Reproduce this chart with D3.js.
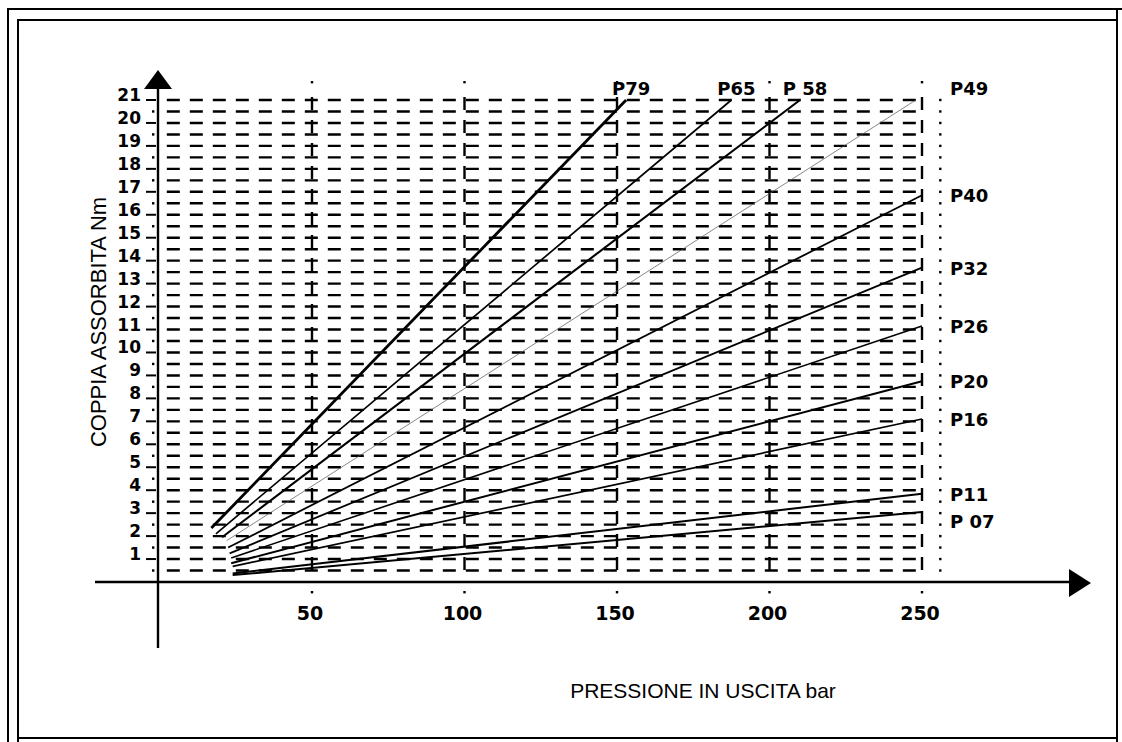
<!DOCTYPE html>
<html lang="it">

<head>
    <meta charset="UTF-8">
    <title>Coppia assorbita</title>
    <style>
        body {
            margin: 0;
            background: white;
        }

        #SVG {
            display: block;
            background-color: white;
        }

        .tick-label {
            font-family: "DejaVu Sans", sans-serif;
            font-weight: bold;
            fill: black;
        }

        .axis-title {
            font-family: "Liberation Sans", Arial, sans-serif;
            fill: black;
        }
    </style>
</head>

<body>
    <svg id="SVG"></svg>

    <script src="https://d3js.org/d3.v7.min.js"></script>

    <script>
        // dati: pressione (bar) e coppia (Nm) agli estremi di ogni retta
        var pumps = ["P79", "P65", "P 58", "P49", "P40", "P32", "P26", "P20", "P16", "P11", "P 07"];
        var startPressure = [17, 18.5, 20.5, 22, 22.5, 23, 23.5, 23.5, 24, 24, 24];
        var startTorque = [2.35, 2.1, 1.95, 1.8, 1.5, 1.25, 1.05, 0.82, 0.68, 0.37, 0.3];
        var endPressure = [153, 187.5, 210, 248, 250, 250, 250, 250, 250, 250, 250];
        var endTorque = [21, 21, 21, 21, 16.85, 13.7, 11.15, 8.75, 7.1, 3.85, 3.05];
        var lineWidth = [2.8, 1.7, 2.1, 0.7, 1.8, 1.8, 1.6, 2, 1.7, 2, 2];

        var xTicks = [50, 100, 150, 200, 250];
        var yTicks = d3.range(1, 22);
        var gridLevels = d3.range(0.5, 21.01, 0.5);

        var width = 1122;
        var height = 742;

        var svg = d3.select("#SVG")
            .attr("width", width)
            .attr("height", height);

        var x = d3.scaleLinear().domain([0, 250]).range([159.5, 922]);
        var y = d3.scaleLinear().domain([0, 21]).range([582, 100]);

        //***************** cornice *****************
        var frame = svg.append("g").attr("stroke", "black").attr("stroke-width", 2).attr("fill", "none");
        frame.append("line").attr("x1", 8).attr("y1", 9).attr("x2", 8).attr("y2", 742);
        frame.append("line").attr("x1", 7).attr("y1", 9).attr("x2", 1122).attr("y2", 9);
        frame.append("line").attr("x1", 18).attr("y1", 20).attr("x2", 18).attr("y2", 742);
        frame.append("line").attr("x1", 17).attr("y1", 20).attr("x2", 1117).attr("y2", 20);
        frame.append("line").attr("x1", 1117).attr("y1", 9).attr("x2", 1117).attr("y2", 742);
        frame.append("line").attr("x1", 18).attr("y1", 738).attr("x2", 1117).attr("y2", 738);

        //***************** griglia tratteggiata *****************
        var grid = svg.append("g");

        grid.selectAll(".hgrid")
            .data(gridLevels)
            .enter()
            .append("line")
            .attr("class", "hgrid")
            .attr("x1", x(2.4))
            .attr("x2", x(250))
            .attr("y1", d => y(d))
            .attr("y2", d => y(d))
            .attr("stroke", "black")
            .attr("stroke-width", 2.4)
            .attr("stroke-dasharray", "13,10");

        grid.selectAll(".vgrid")
            .data(xTicks)
            .enter()
            .append("line")
            .attr("class", "vgrid")
            .attr("x1", d => x(d))
            .attr("x2", d => x(d))
            .attr("y1", y(21) - 3)
            .attr("y2", y(0.3))
            .attr("stroke", "black")
            .attr("stroke-width", 2.4)
            .attr("stroke-dasharray", "13,10");

        // puntini sopra e sotto le linee verticali
        grid.selectAll(".topdot")
            .data(xTicks)
            .enter()
            .append("rect")
            .attr("x", d => x(d) - 1.2)
            .attr("y", 81)
            .attr("width", 2.4)
            .attr("height", 2.4)
            .attr("fill", "black");

        grid.selectAll(".botdot")
            .data(xTicks)
            .enter()
            .append("rect")
            .attr("x", d => x(d) - 1.2)
            .attr("y", 591)
            .attr("width", 2.4)
            .attr("height", 2.4)
            .attr("fill", "black");

        // linea a puntini oltre 250 bar
        grid.selectAll(".rdot")
            .data(gridLevels)
            .enter()
            .append("rect")
            .attr("x", x(256) - 1.2)
            .attr("y", d => y(d) - 1.2)
            .attr("width", 2.4)
            .attr("height", 2.4)
            .attr("fill", "black");

        //***************** assi *****************
        var axes = svg.append("g");

        axes.append("line")
            .attr("x1", 158).attr("x2", 158)
            .attr("y1", 86).attr("y2", 648)
            .attr("stroke", "black").attr("stroke-width", 2.4);

        axes.append("path")
            .attr("d", "M158,70 L144,89 L172,89 Z")
            .attr("fill", "black");

        axes.append("line")
            .attr("x1", 95).attr("x2", 1072)
            .attr("y1", 582).attr("y2", 582)
            .attr("stroke", "black").attr("stroke-width", 2.4);

        axes.append("path")
            .attr("d", "M1069,569 L1091,583 L1069,597 Z")
            .attr("fill", "black");

        // tacche dell'asse Y
        axes.selectAll(".ytick")
            .data(yTicks)
            .enter()
            .append("line")
            .attr("x1", 146).attr("x2", 156)
            .attr("y1", d => y(d)).attr("y2", d => y(d))
            .attr("stroke", "black").attr("stroke-width", 2);

        axes.selectAll(".ydot")
            .data(yTicks.map(d => d - 0.5))
            .enter()
            .append("rect")
            .attr("x", 152)
            .attr("y", d => y(d) - 1.2)
            .attr("width", 2.4)
            .attr("height", 2.4)
            .attr("fill", "black");

        axes.selectAll(".ylabel")
            .data(yTicks)
            .enter()
            .append("text")
            .attr("class", "tick-label")
            .attr("x", 141)
            .attr("y", d => y(d) + 1)
            .attr("text-anchor", "end")
            .style("font-size", "17px")
            .text(d => d);

        axes.selectAll(".xlabel")
            .data(xTicks)
            .enter()
            .append("text")
            .attr("class", "tick-label")
            .attr("x", d => x(d) - 2)
            .attr("y", 620)
            .attr("text-anchor", "middle")
            .style("font-size", "19px")
            .text(d => d);

        // titoli degli assi
        svg.append("text")
            .attr("class", "axis-title")
            .attr("transform", "translate(106,322) rotate(-90)")
            .attr("text-anchor", "middle")
            .style("font-size", "22px")
            .text("COPPIA ASSORBITA Nm");

        svg.append("text")
            .attr("class", "axis-title")
            .attr("x", 703)
            .attr("y", 698)
            .attr("text-anchor", "middle")
            .style("font-size", "21px")
            .text("PRESSIONE IN USCITA bar");

        //***************** rette delle pompe *****************
        var curves = svg.append("g");

        curves.selectAll(".pump")
            .data(pumps)
            .enter()
            .append("line")
            .attr("class", "pump")
            .attr("x1", (d, i) => x(startPressure[i]))
            .attr("y1", (d, i) => y(startTorque[i]))
            .attr("x2", (d, i) => x(endPressure[i]))
            .attr("y2", (d, i) => y(endTorque[i]))
            .attr("stroke", (d, i) => lineWidth[i] < 1 ? "#555" : "black")
            .attr("stroke-width", (d, i) => lineWidth[i]);

        // etichette: in alto se la retta arriva a 21 Nm prima di 250 bar, altrimenti a destra
        var lastRight = -100;
        pumps.forEach(function (name, i) {
            var label = curves.append("text")
                .attr("class", "tick-label")
                .style("font-size", "18px")
                .text(name);
            if (endTorque[i] >= 21 && endPressure[i] < 245) {
                label.attr("x", x(endPressure[i]) + 5)
                    .attr("y", 95)
                    .attr("text-anchor", "middle");
            } else if (endTorque[i] >= 21) {
                label.attr("x", 950).attr("y", 95);
                lastRight = 88;
            } else {
                var cy = Math.max(y(endTorque[i]), lastRight + 27);
                lastRight = cy;
                label.attr("x", 950)
                    .attr("y", cy + 7);
            }
        });

    </script>
</body>

</html>
